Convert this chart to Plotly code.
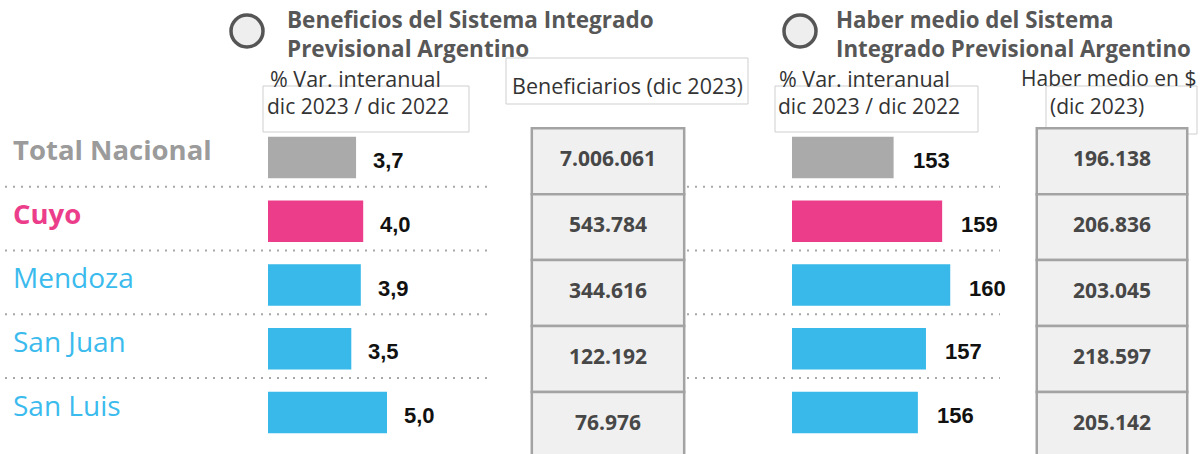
import plotly.graph_objects as go

# ---------------- data ----------------
regions = ["Total Nacional", "Cuyo", "Mendoza", "San Juan", "San Luis"]
var_beneficios = [3.7, 4.0, 3.9, 3.5, 5.0]          # % var. interanual dic23/dic22
beneficiarios = ["7.006.061", "543.784", "344.616", "122.192", "76.976"]
var_haber = [153, 159, 160, 157, 156]                # % var. interanual dic23/dic22
haber_medio = ["196.138", "206.836", "203.045", "218.597", "205.142"]

title_left = ["Beneficios del Sistema Integrado", "Previsional Argentino"]
title_right = ["Haber medio del Sistema", "Integrado Previsional Argentino"]
sub_var = ["% Var. interanual", "dic 2023 / dic 2022"]
sub_benef = "Beneficiarios (dic 2023)"
sub_haber = ["Haber medio en $", "(dic 2023)"]

# ---------------- styles ----------------
W, H = 1202, 454
row_colors = ["#aaaaaa", "#ec3d8b", "#38b9e9", "#38b9e9", "#38b9e9"]
label_colors = ["#9b9b9b", "#ec3d8b", "#3bbbed", "#3bbbed", "#3bbbed"]
label_weights = ["bold", "bold", "normal", "normal", "normal"]
label_sizes = [27.5, 27.5, 28, 28, 28]
FONT = "Open Sans"


def px(x):
    return x / W


def py(y):
    return 1 - y / H


rows = list(range(len(regions)))

fig = go.Figure()

# bars, left panel
fig.add_trace(go.Bar(
    x=var_beneficios, y=rows, orientation="h", width=0.65,
    marker=dict(color=row_colors, line=dict(width=0)),
    xaxis="x", yaxis="y", hoverinfo="skip", showlegend=False))
# bars, right panel
fig.add_trace(go.Bar(
    x=var_haber, y=rows, orientation="h", width=0.65,
    marker=dict(color=row_colors, line=dict(width=0)),
    xaxis="x2", yaxis="y", hoverinfo="skip", showlegend=False))

# table cells
for xa, vals in (("x3", beneficiarios), ("x4", haber_medio)):
    fig.add_trace(go.Bar(
        x=[1] * len(vals), y=rows, orientation="h", width=1,
        marker=dict(color="#f0f0f0", line=dict(color="#a3a3a3", width=2.5)),
        xaxis=xa, yaxis="y2", hoverinfo="skip", showlegend=False))
    fig.add_trace(go.Scatter(
        x=[0.5] * len(vals), y=rows, mode="text", text=vals,
        textposition="middle center",
        textfont=dict(family=FONT, size=21, color="#474747", weight="bold"),
        xaxis=xa, yaxis="y2", hoverinfo="skip", showlegend=False))

annotations = []
# value labels
for i, v in enumerate(var_beneficios):
    annotations.append(dict(
        x=v, y=i, xref="x", yref="y", xanchor="left", yanchor="middle",
        xshift=15, yshift=-3, showarrow=False,
        text=f"{v:.1f}".replace(".", ","),
        font=dict(family="Liberation Sans", size=22, color="#111111", weight="bold")))
for i, v in enumerate(var_haber):
    annotations.append(dict(
        x=v, y=i, xref="x2", yref="y", xanchor="left", yanchor="middle",
        xshift=17, yshift=-3, showarrow=False, text=f"{v}",
        font=dict(family="Liberation Sans", size=22, color="#111111", weight="bold")))
# row labels
for i, r in enumerate(regions):
    annotations.append(dict(
        x=px(11), y=i, xref="paper", yref="y", xanchor="left", yanchor="middle",
        yshift=8, showarrow=False, text=r,
        font=dict(family=FONT, size=label_sizes[i], color=label_colors[i],
                  weight=label_weights[i])))


def txt(x, y, s, size, color, weight="normal"):
    annotations.append(dict(
        x=px(x), y=py(y), xref="paper", yref="paper", xanchor="left",
        yanchor="middle", align="left", showarrow=False, text=s,
        font=dict(family=FONT, size=size, color=color, weight=weight)))


# titles (two lines each, one text block)
txt(285, 34, "<br>".join(title_left), 22.5, "#575757", "bold")
txt(834, 34, "<br>".join(title_right), 22.3, "#575757", "bold")
# sub headers
txt(268, 78, sub_var[0], 21.5, "#333333")
txt(265, 106, sub_var[1], 21, "#333333")
txt(510, 85, sub_benef, 21.5, "#333333")
txt(777, 78, sub_var[0], 21.5, "#333333")
txt(776, 106, sub_var[1], 21, "#333333")
txt(1019, 78, sub_haber[0], 21, "#333333")
txt(1048, 106, sub_haber[1], 21, "#333333")

shapes = []


def box(x0, y0, x1, y1):
    shapes.append(dict(type="rect", xref="paper", yref="paper",
                       x0=px(x0), x1=px(x1), y0=py(y1), y1=py(y0),
                       line=dict(color="#cfcfcf", width=1), fillcolor="rgba(0,0,0,0)",
                       layer="below"))


box(263, 86, 469, 132)
box(506, 58, 748, 104)
box(775, 86, 978, 132)
box(1046, 86, 1197, 134)

# title circles
for cx in (247, 800):
    shapes.append(dict(type="circle", xref="paper", yref="paper",
                       x0=px(cx - 16), x1=px(cx + 16), y0=py(31 + 16), y1=py(31 - 16),
                       line=dict(color="#555555", width=3.5), fillcolor="#eeeeee"))

# dotted separators between rows
for i in range(len(regions) - 1):
    for x0, x1 in ((5, 488), (687, 1000)):
        shapes.append(dict(type="line", xref="paper", yref="y",
                           x0=px(x0), x1=px(x1), y0=i + 0.46, y1=i + 0.46,
                           line=dict(color="#a8a8a8", width=2, dash="2px,6px"),
                           layer="below"))

# axis geometry
bar_scale_l = 23.8          # px per unit
bar_scale_r = 8.09
x_l0, x_l1 = 268, 505
x_r0, x_r1 = 792, 1030
ax_hidden = dict(visible=False, showgrid=False, zeroline=False, fixedrange=True)

fig.update_layout(
    width=W, height=H,
    margin=dict(l=0, r=0, t=0, b=0),
    paper_bgcolor="white", plot_bgcolor="rgba(0,0,0,0)",
    barmode="overlay",
    xaxis=dict(domain=[px(x_l0), px(x_l1)], range=[0, (x_l1 - x_l0) / bar_scale_l], **ax_hidden),
    xaxis2=dict(domain=[px(x_r0), px(x_r1)], range=[140.44, 140.44 + (x_r1 - x_r0) / bar_scale_r],
                anchor="y", **ax_hidden),
    xaxis3=dict(domain=[px(528), px(688)], range=[-0.025, 1.025], anchor="y2", **ax_hidden),
    xaxis4=dict(domain=[px(1033), px(1191)], range=[-0.025, 1.025], anchor="y2", **ax_hidden),
    yaxis=dict(domain=[py(450), py(120)], range=[4.588, -0.588], **ax_hidden),
    yaxis2=dict(domain=[0, py(124)], range=[4.442, -0.565], anchor="x3", **ax_hidden),
    annotations=annotations,
    shapes=shapes,
    showlegend=False,
)

fig.write_html("out.html", config={"displayModeBar": False},
               post_script="document.body.style.margin='0';")
